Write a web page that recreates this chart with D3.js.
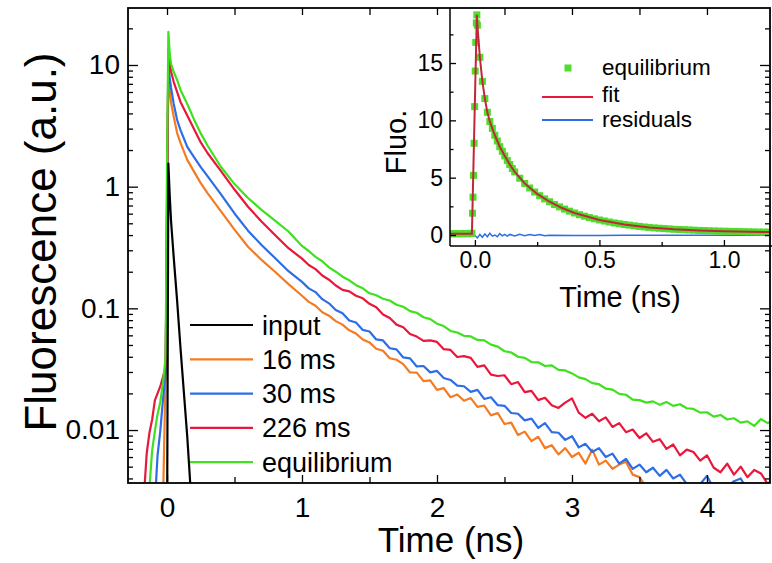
<!DOCTYPE html>
<html><head><meta charset="utf-8">
<script src="https://cdn.jsdelivr.net/npm/d3@7"></script>
<style>
html,body{margin:0;padding:0;background:#fff;}
svg{display:block;font-family:"Liberation Sans",Arial,Helvetica,sans-serif;}
</style></head><body>
<svg id="c" width="772" height="563"></svg>
<script>
// ---------------- data ----------------
const time = [-0.29,-0.2,-0.17,-0.15,-0.13,-0.11,-0.09,-0.07,-0.05,-0.03,-0.01,0,
 0.01,0.02,0.03,0.05,0.075,0.1,0.15,0.2,0.25,0.3,0.4,0.5,0.6,0.7,0.8,0.9,
 1.0,1.05,1.1,1.15,1.2,1.25,1.3,1.35,1.4,1.45,1.5,1.55,1.6,1.65,1.7,1.75,1.8,1.85,1.9,1.95,
 2.0,2.05,2.1,2.15,2.2,2.25,2.3,2.35,2.4,2.45,2.5,2.55,2.6,2.65,2.7,2.75,2.8,2.85,2.9,2.95,
 3.0,3.05,3.1,3.15,3.2,3.25,3.3,3.35,3.4,3.45,3.5,3.55,3.6,3.65,3.7,3.75,3.8,3.85,3.9,3.95,
 4.0,4.05,4.1,4.15,4.2,4.25,4.3,4.35,4.4,4.45,4.5];

const inputTime  = [-0.29, 0.0, 0.01, 0.02, 0.03, 0.05, 0.075, 0.1, 0.15, 0.2];
const inputValue = [0.001, 0.001, 1.55, 0.85, 0.52, 0.26, 0.115, 0.047, 0.0088, 0.0012];

const ms16 = [0.001,0.001,0.001,0.001,0.001,0.001,0.001,0.001,0.001,0.0025,0.03,0.5,
 8.0,6.3,4.9,3.75,2.76,2.29,1.66,1.33,1.07,0.886,0.627,0.444,0.321,0.25,0.2,0.158,
 0.127,0.113,0.105,0.0930,0.0870,0.0785,0.0735,0.0660,0.0620,0.0555,0.0525,0.0465,0.0448,0.0389,0.0378,0.0348,0.0297,0.0296,0.0252,0.0256,
 0.0214,0.0221,0.0186,0.0196,0.0174,0.0183,0.0155,0.0159,0.0132,0.0138,0.0112,0.0115,0.0091,0.0097,0.0081,0.0088,0.0071,0.0075,0.0063,0.0071,
 0.0060,0.0065,0.0053,0.0069,0.0052,0.0056,0.0048,0.0052,0.0055,0.0043,0.0041,0.0034,0.0031,0.0030,0.0032,0.0034,0.0037,0.0031,0.0028,0.0027,
 0.0026,0.0026,0.0025,0.0025,0.0024,0.0024,0.0023,0.0023,0.0022,0.0022,0.0022];

const ms30 = [0.001,0.001,0.001,0.001,0.001,0.001,0.0025,0.0062,0.0098,0.0177,0.03,0.8,
 10.5,7.8,6.47,4.78,3.53,2.92,2.12,1.75,1.45,1.22,0.865,0.602,0.435,0.332,0.259,0.202,
 0.165,0.146,0.136,0.119,0.110,0.0970,0.0910,0.0795,0.0765,0.0665,0.0645,0.0555,0.0545,0.0470,0.0460,0.0395,0.0388,0.0333,0.0336,0.0298,
 0.0306,0.0268,0.0258,0.0232,0.0229,0.0206,0.0214,0.0180,0.0186,0.0160,0.0158,0.0138,0.0136,0.0120,0.0124,0.0104,0.0114,0.0096,0.0095,0.0083,
 0.0089,0.0072,0.0077,0.0066,0.0071,0.0060,0.0064,0.0053,0.0058,0.0048,0.0052,0.0045,0.0049,0.0042,0.0047,0.0040,0.0043,0.0036,0.0034,0.0036,
 0.0042,0.0033,0.0031,0.0034,0.0038,0.0040,0.0032,0.0030,0.0031,0.0029,0.0030];

const ms226 = [0.001,0.002,0.003,0.0065,0.0095,0.0122,0.0175,0.020,0.0228,0.0273,0.033,0.6,
 13.5,10.2,8.8,7.24,6.0,4.97,3.85,2.98,2.31,1.89,1.34,0.947,0.684,0.518,0.401,0.312,
 0.256,0.227,0.210,0.186,0.172,0.154,0.142,0.138,0.127,0.121,0.109,0.102,0.0890,0.0832,0.0735,0.0700,0.0615,0.0586,0.0540,0.0545,
 0.0530,0.0462,0.0455,0.0398,0.0405,0.0392,0.0330,0.0340,0.0285,0.0278,0.0282,0.0238,0.0248,0.0205,0.0210,0.0176,0.0184,0.0160,0.0152,0.0168,
 0.0182,0.0139,0.0126,0.0136,0.0118,0.0127,0.0106,0.0114,0.0096,0.0101,0.0086,0.0094,0.0080,0.0084,0.0070,0.0076,0.0062,0.0069,0.0066,0.0056,
 0.0062,0.0049,0.0045,0.0053,0.0043,0.0050,0.0041,0.0047,0.0044,0.0036,0.0041];

const equilibrium = [0.001,0.001,0.001,0.0025,0.0034,0.0068,0.0098,0.0135,0.017,0.0244,0.04,1.5,
 18.7,12.5,10.2,8.75,7.53,6.24,4.78,3.57,2.74,2.18,1.45,1.05,0.807,0.644,0.525,0.428,
 0.326,0.296,0.265,0.244,0.217,0.200,0.182,0.170,0.155,0.146,0.133,0.128,0.120,0.116,0.107,0.103,0.0950,0.0920,0.0845,0.0815,
 0.0748,0.0715,0.0652,0.0633,0.0595,0.0588,0.0550,0.0545,0.0503,0.0485,0.0444,0.0434,0.0400,0.0392,0.0362,0.0360,0.0336,0.0340,0.0312,0.0309,
 0.0292,0.0271,0.0262,0.0243,0.0238,0.0219,0.0215,0.0198,0.0195,0.0178,0.0176,0.0168,0.0172,0.0161,0.0170,0.0158,0.0163,0.0151,0.0149,0.0139,
 0.0140,0.0129,0.0133,0.0122,0.0125,0.0115,0.0118,0.0108,0.0123,0.0114,0.0123];

const legendNames  = ["input", "16 ms", "30 ms", "226 ms", "equilibrium"];
const legendColors = ["#000000", "#f47b22", "#2d6ee6", "#e8173c", "#3fe01e"];

const yTickValues = [0.01, 0.1, 1, 10];
const yTickLabels = ["0.01", "0.1", "1", "10"];
const xTickValues = [0, 1, 2, 3, 4];
const xTickLabels = ["0", "1", "2", "3", "4"];

// inset data (equilibrium on linear scale, fit and residuals)
const insetTime = [-0.1,-0.09,-0.08,-0.07,-0.06,-0.05,-0.04,-0.03,-0.02,
 -0.012,-0.0098,-0.0076,-0.0054,-0.0032,-0.001,0.0012,0.0034,0.0056,0.0078,
 0.01,0.02,0.03,0.04,0.05,0.06,0.07,0.08,0.09,0.10,0.11,0.12,0.13,0.14,0.15,0.16,
 0.18,0.20,0.22,0.24,0.26,0.28,0.30,0.32,0.34,0.36,0.38,0.40,0.42,0.44,0.46,0.48,0.50,
 0.52,0.54,0.56,0.58,0.60,0.62,0.64,0.66,0.68,0.70,0.72,0.74,0.76,0.78,0.80,
 0.82,0.84,0.86,0.88,0.90,0.92,0.94,0.96,0.98,1.00,1.02,1.04,1.06,1.08,1.10,1.12,1.14,1.16,1.18,1.20];
const insetEq = [0.12,0.10,0.13,0.11,0.10,0.12,0.14,0.10,0.12,
 0.15,1.9,3.3,5.2,8.0,11.2,14.3,16.8,18.5,19.2,
 18.3,15.5,13.4,11.9,10.7,9.9,9.3,8.7,8.2,7.7,7.3,6.9,6.5,6.15,5.8,5.5,
 4.95,4.5,4.1,3.75,3.43,3.15,2.9,2.66,2.45,2.26,2.08,1.92,1.77,1.64,1.52,1.41,1.31,
 1.22,1.13,1.05,0.98,0.92,0.86,0.80,0.75,0.70,0.66,0.62,0.59,0.56,0.53,0.50,
 0.48,0.46,0.44,0.42,0.40,0.385,0.37,0.355,0.34,0.33,0.32,0.31,0.30,0.29,0.28,0.27,0.26,0.255,0.25,0.245];
const fitTime  = [-0.1,-0.012,0.0078,0.01,0.02,0.03,0.04,0.05,0.06,0.08,0.1,0.12,0.14,0.16,0.2,0.25,0.3,0.35,0.4,0.5,0.6,0.7,0.8,0.9,1.0,1.1,1.2];
const fitValue = [0.1,0.1,19.2,18.3,15.5,13.4,11.9,10.7,9.9,8.7,7.7,6.9,6.15,5.5,4.5,3.58,2.9,2.35,1.92,1.31,0.92,0.66,0.50,0.40,0.33,0.28,0.245];
const resTime  = [-0.1,-0.05,-0.01,0.0,0.01,0.02,0.03,0.04,0.05,0.06,0.07,0.08,0.09,0.10,0.11,0.12,0.13,0.14,0.16,0.18,0.20,0.22,0.24,0.26,0.28,0.30,0.40,0.50,0.60,0.80,1.00,1.20];
const resValue = [-0.12,-0.12,-0.12,-0.05,-0.25,0.05,-0.2,0.1,-0.15,0.15,-0.1,0.0,-0.15,0.12,-0.08,0.05,-0.1,0.05,-0.08,0.06,-0.06,0.04,-0.05,0.05,-0.06,-0.02,-0.05,-0.04,-0.03,-0.02,-0.03,-0.03];
const insetLegendNames  = ["equilibrium", "fit", "residuals"];
const insetLegendColors = ["#4fdc2c", "#e8173c", "#2d6ee6"];
const insetXTicks = [0, 0.5, 1.0];
const insetXLabels = ["0.0", "0.5", "1.0"];
const insetYTicks = [0, 5, 10, 15];
const insetYLabels = ["0", "5", "10", "15"];

// ---------------- drawing ----------------
const svg = d3.select("#c");
const P = {l:128, r:770, t:8, b:483};
const x = d3.scaleLinear().domain([-0.289, 4.467]).range([P.l, P.r]);
const y = d3.scaleLog().domain([0.00367, 29.4]).range([P.b, P.t]);

const defs = svg.append("defs");
defs.append("clipPath").attr("id","clipMain").append("rect")
  .attr("x",P.l).attr("y",P.t).attr("width",P.r-P.l).attr("height",P.b-P.t);

const lineGen = (ts) => d3.line().x((d,i)=>x(ts[i])).y(d=>y(d));

const series = [
  {v: ms16, t: time, c: legendColors[1]},
  {v: ms30, t: time, c: legendColors[2]},
  {v: ms226, t: time, c: legendColors[3]},
  {v: equilibrium, t: time, c: legendColors[4]},
  {v: inputValue, t: inputTime, c: legendColors[0]}
];
const gLines = svg.append("g").attr("clip-path","url(#clipMain)");
series.forEach(s=>{
  gLines.append("path").attr("d", lineGen(s.t)(s.v))
    .attr("fill","none").attr("stroke",s.c).attr("stroke-width",2.2)
    .attr("stroke-linejoin","round");
});

// legend
const lg = svg.append("g");
legendNames.forEach((n,i)=>{
  const cy = 325 + i*34.3;
  lg.append("line").attr("x1",190).attr("x2",253).attr("y1",cy).attr("y2",cy)
    .attr("stroke",legendColors[i]).attr("stroke-width",2.2);
  lg.append("text").attr("x",262).attr("y",cy+9.5).attr("font-size",27).attr("fill","#000").text(n);
});

// ---------------- inset ----------------
const I = {l:450, r:770, t:8, b:246};
const ix = d3.scaleLinear().domain([-0.1, 1.185]).range([I.l, I.r]);
const iy = d3.scaleLinear().domain([-0.96, 19.8]).range([I.b, I.t]);
svg.append("rect").attr("x",I.l).attr("y",I.t).attr("width",772-I.l).attr("height",I.b-I.t).attr("fill","#fff");
defs.append("clipPath").attr("id","clipInset").append("rect")
  .attr("x",I.l).attr("y",I.t).attr("width",I.r-I.l).attr("height",I.b-I.t);
const gi = svg.append("g").attr("clip-path","url(#clipInset)");
gi.append("path").attr("d", d3.line().x((d,i)=>ix(resTime[i])).y(d=>iy(d))(resValue))
  .attr("fill","none").attr("stroke",insetLegendColors[2]).attr("stroke-width",1.5);
gi.selectAll("rect.pt").data(insetEq).enter().append("rect").attr("class","pt")
  .attr("x",(d,i)=>ix(insetTime[i])-3.5).attr("y",d=>iy(d)-3.5).attr("width",7).attr("height",7)
  .attr("fill",insetLegendColors[0]);
gi.append("path").attr("d", d3.line().x((d,i)=>ix(fitTime[i])).y(d=>iy(d))(fitValue))
  .attr("fill","none").attr("stroke","#c02838").attr("stroke-width",2);

// inset axes
const fs = (g)=>{ g.select(".domain").remove(); g.selectAll("line").attr("stroke","#000").attr("stroke-width",1.3); g.selectAll("text").attr("fill","#000").attr("font-family","Liberation Sans, Arial, sans-serif"); };
svg.append("g").attr("transform",`translate(${I.l},0)`)
  .call(d3.axisLeft(iy).tickValues(insetYTicks).tickFormat((d,i)=>insetYLabels[i]).tickSize(-6).tickPadding(7))
  .call(fs).selectAll("text").attr("font-size",23);
svg.append("g").attr("transform",`translate(${I.l},0)`)
  .call(d3.axisLeft(iy).tickValues([2.5,7.5,12.5,17.5]).tickFormat("").tickSize(-3.5)).call(fs);
svg.append("g").attr("transform",`translate(0,${I.b})`)
  .call(d3.axisBottom(ix).tickValues(insetXTicks).tickFormat((d,i)=>insetXLabels[i]).tickSize(-6).tickPadding(6))
  .call(fs).selectAll("text").attr("font-size",23);
svg.append("g").attr("transform",`translate(0,${I.b})`)
  .call(d3.axisBottom(ix).tickValues([0.25,0.75]).tickFormat("").tickSize(-4)).call(fs);
svg.append("line").attr("x1",I.l).attr("x2",I.l).attr("y1",I.t).attr("y2",I.b).attr("stroke","#000").attr("stroke-width",1.5);
svg.append("line").attr("x1",I.l).attr("x2",772).attr("y1",I.b).attr("y2",I.b).attr("stroke","#000").attr("stroke-width",1.5);
svg.append("text").attr("x",620).attr("y",307).attr("text-anchor","middle").attr("font-size",29).text("Time (ns)");
svg.append("text").attr("transform","translate(406,142) rotate(-90)").attr("text-anchor","middle").attr("font-size",29).text("Fluo.");

// inset legend
svg.append("rect").attr("x",564.5).attr("y",64.5).attr("width",7).attr("height",7).attr("fill",insetLegendColors[0]);
[[97,1],[120,2]].forEach(([cy,k])=>{
  svg.append("line").attr("x1",542).attr("x2",593).attr("y1",cy).attr("y2",cy).attr("stroke",insetLegendColors[k]).attr("stroke-width",2);
});
[75,102,127].forEach((by,i)=>{
  svg.append("text").attr("x",602).attr("y",by).attr("font-size",22.5).text(insetLegendNames[i]);
});

// ---------------- main axes ----------------
const minorY = [];
[-3,-2,-1,0,1].forEach(e=>{ for(let k=2;k<=9;k++){ const v=k*Math.pow(10,e); if(v>=0.00367 && v<=29.4) minorY.push(v);} });
svg.append("g").attr("transform",`translate(${P.l},0)`)
  .call(d3.axisLeft(y).tickValues(yTickValues).tickFormat((d,i)=>yTickLabels[i]).tickSize(-10).tickPadding(8))
  .call(fs).selectAll("text").attr("font-size",28);
svg.append("g").attr("transform",`translate(${P.l},0)`)
  .call(d3.axisLeft(y).tickValues(minorY).tickFormat("").tickSize(-5)).call(fs);
svg.append("g").attr("transform",`translate(${P.r},0)`)
  .call(d3.axisRight(y).tickValues(yTickValues).tickFormat("").tickSize(-10)).call(fs);
svg.append("g").attr("transform",`translate(${P.r},0)`)
  .call(d3.axisRight(y).tickValues(minorY).tickFormat("").tickSize(-5)).call(fs);
svg.append("g").attr("transform",`translate(0,${P.b})`)
  .call(d3.axisBottom(x).tickValues(xTickValues).tickFormat((d,i)=>xTickLabels[i]).tickSize(-8).tickPadding(14))
  .call(fs).selectAll("text").attr("font-size",28);
svg.append("g").attr("transform",`translate(0,${P.b})`)
  .call(d3.axisBottom(x).tickValues([0.5,1.5,2.5,3.5]).tickFormat("").tickSize(-6)).call(fs);
svg.append("g").attr("transform",`translate(0,${P.t})`)
  .call(d3.axisTop(x).tickValues([0,0.5,1,1.5,2,2.5,3,3.5,4]).tickFormat("").tickSize(-7)).call(fs);
svg.append("rect").attr("x",P.l).attr("y",P.t).attr("width",P.r-P.l).attr("height",P.b-P.t)
  .attr("fill","none").attr("stroke","#000").attr("stroke-width",1.8);

svg.append("text").attr("x",451).attr("y",552).attr("text-anchor","middle").attr("font-size",35).text("Time (ns)");
svg.append("text").attr("transform","translate(56,242) rotate(-90)").attr("text-anchor","middle").attr("font-size",44).text("Fluorescence (a.u.)");
</script>
</body></html>
